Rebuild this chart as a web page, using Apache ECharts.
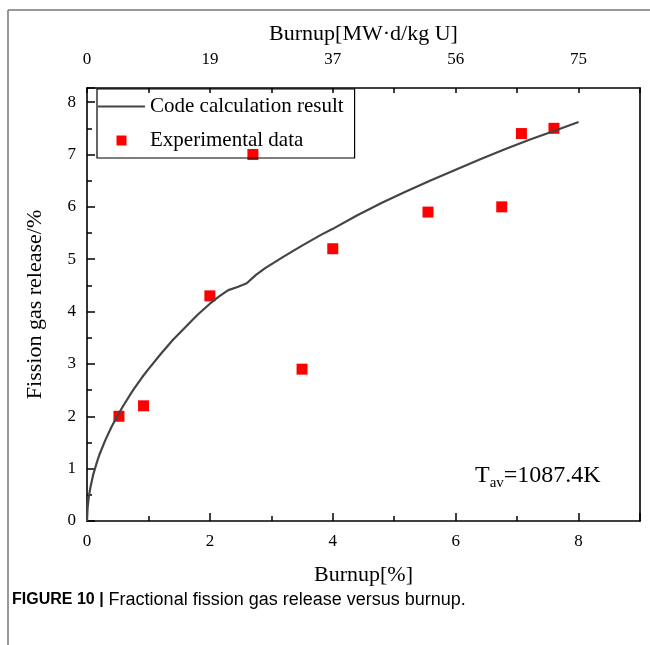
<!DOCTYPE html>
<html>
<head>
<meta charset="utf-8">
<script src="https://cdn.jsdelivr.net/npm/echarts@6/dist/echarts.min.js"></script>
<style>html,body{margin:0;padding:0;background:#fff;}#c{width:650px;height:645px;}</style>
</head>
<body>
<div id="c"></div>
<script>
// Experimental data: burnup [%] and fission gas release [%]
var expBurnup = [0.52, 0.92, 2.0, 2.7, 3.5, 4.0, 5.55, 6.75, 7.07, 7.6];
var expFGR    = [2.0, 2.2, 4.3, 7.0, 2.9, 5.2, 5.9, 6.0, 7.4, 7.5];
// Code calculation result curve
var calcBurnup = [0, 0.01, 0.03, 0.06, 0.1, 0.15, 0.2, 0.3, 0.4, 0.5, 0.6, 0.75, 0.9, 1.0, 1.2, 1.4, 1.6, 1.8, 2.0, 2.15, 2.3, 2.45, 2.6, 2.75, 2.9, 3.2, 3.5, 3.8, 4.0, 4.4, 4.8, 5.2, 5.6, 6.0, 6.4, 6.8, 7.2, 7.6, 8.0];
var calcFGR    = [0, 0.26, 0.47, 0.67, 0.88, 1.08, 1.26, 1.55, 1.8, 2.02, 2.22, 2.5, 2.75, 2.9, 3.19, 3.46, 3.7, 3.94, 4.15, 4.29, 4.41, 4.47, 4.54, 4.7, 4.83, 5.05, 5.26, 5.46, 5.58, 5.84, 6.08, 6.3, 6.51, 6.71, 6.91, 7.1, 7.28, 7.45, 7.62];
// Top axis tick labels (MW·d/kg U) at burnup 0,2,4,6,8 %
var topTickLabels = ['0', '19', '37', '56', '75'];
var seriesNames = ['Code calculation result', 'Experimental data'];

var curve = calcBurnup.map(function (x, i) { return [x, calcFGR[i]]; });
var points = expBurnup.map(function (x, i) { return [x, expFGR[i]]; });

var serif = 'Liberation Serif';
var gridRect = { left: 87, right: 10, top: 88, bottom: 124 };
var axisLineStyle = { color: '#000', width: 1.6 };
var labelStyle = { fontFamily: serif, fontSize: 17, color: '#000' };
var nameStyle = { fontFamily: serif, fontSize: 22, color: '#000' };

var chart = echarts.init(document.getElementById('c'), null, { renderer: 'canvas' });
chart.setOption({
  animation: false,
  backgroundColor: '#fff',
  grid: [
    Object.assign({ containLabel: false }, gridRect),
    Object.assign({ containLabel: false }, gridRect)
  ],
  xAxis: [
    { // bottom main axis
      type: 'value', gridIndex: 0, position: 'bottom', min: 0, max: 9, interval: 2,
      name: 'Burnup[%]', nameLocation: 'middle', nameGap: 43, nameTextStyle: nameStyle,
      axisLine: { show: true, onZero: false, lineStyle: axisLineStyle },
      axisTick: { show: true, inside: true, length: 8, lineStyle: { color: '#000', width: 1.5 } },
      axisLabel: Object.assign({ margin: 12, formatter: function (v) { return (v % 2 === 0 && v <= 8) ? String(v) : ''; } }, labelStyle),
      splitLine: { show: false }
    },
    { // top axis
      type: 'value', gridIndex: 0, position: 'top', min: 0, max: 9, interval: 1,
      name: 'Burnup[MW\u00b7d/kg U]', nameLocation: 'middle', nameGap: 43, nameTextStyle: nameStyle,
      axisLine: { show: true, onZero: false, lineStyle: axisLineStyle },
      axisTick: { show: true, inside: true, length: 5, lineStyle: { color: '#000', width: 1.5 } },
      axisLabel: Object.assign({ margin: 20, formatter: function (v) { return (v % 2 === 0 && v <= 8) ? topTickLabels[v / 2] : ''; } }, labelStyle),
      splitLine: { show: false }
    },
    { // bottom minor ticks
      type: 'value', gridIndex: 1, position: 'bottom', min: 0, max: 9, interval: 1,
      axisLine: { show: false },
      axisTick: { show: true, inside: true, length: 5, lineStyle: { color: '#000', width: 1.5 } },
      axisLabel: { show: false }, splitLine: { show: false }
    }
  ],
  yAxis: [
    { // left main axis
      type: 'value', gridIndex: 0, position: 'left', min: 0, max: 8.27, interval: 1,
      name: 'Fission gas release/%', nameLocation: 'middle', nameGap: 41, nameTextStyle: nameStyle,
      axisLine: { show: true, onZero: false, lineStyle: axisLineStyle },
      axisTick: { show: true, inside: true, length: 8, lineStyle: { color: '#000', width: 1.5 } },
      axisLabel: Object.assign({ margin: 11, formatter: function (v) { return Number.isInteger(v) ? String(v) : ''; } }, labelStyle),
      splitLine: { show: false }
    },
    { // right border
      type: 'value', gridIndex: 0, position: 'right', min: 0, max: 8.27,
      axisLine: { show: true, onZero: false, lineStyle: axisLineStyle },
      axisTick: { show: false }, axisLabel: { show: false }, splitLine: { show: false }
    },
    { // left minor ticks
      type: 'value', gridIndex: 1, position: 'left', min: 0, max: 8.27, interval: 0.5,
      axisLine: { show: false },
      axisTick: { show: true, inside: true, length: 5, lineStyle: { color: '#000', width: 1.5 } },
      axisLabel: { show: false }, splitLine: { show: false }
    }
  ],
  legend: {
    left: 97, top: 89, orient: 'vertical',
    padding: [7, 11, 7, 1], itemGap: 13, itemWidth: 47, itemHeight: 10,
    borderColor: '#000', borderWidth: 1.2,
    textStyle: { fontFamily: serif, fontSize: 21, color: '#000', lineHeight: 14 },
    data: [
      { name: seriesNames[0], icon: 'path://M0,0L47,0L47,2.2L0,2.2Z' },
      { name: seriesNames[1], icon: 'path://M0,0L10,0L10,10L0,10Z' }
    ]
  },
  series: [
    {
      name: seriesNames[0], type: 'line', xAxisIndex: 0, yAxisIndex: 0,
      data: curve, symbol: 'none', showSymbol: false, smooth: false,
      lineStyle: { color: '#444', width: 2.2 }, itemStyle: { color: '#444' }
    },
    {
      name: seriesNames[1], type: 'scatter', xAxisIndex: 0, yAxisIndex: 0,
      data: points, symbol: 'rect', symbolSize: 11,
      itemStyle: { color: '#ff0000', opacity: 1 }
    }
  ],
  graphic: [
    { type: 'line', shape: { x1: 8, y1: 10, x2: 650, y2: 10 }, style: { stroke: '#777', lineWidth: 1.5 }, silent: true },
    { type: 'line', shape: { x1: 8, y1: 10, x2: 8, y2: 645 }, style: { stroke: '#777', lineWidth: 1.5 }, silent: true },
    {
      type: 'text', left: 475, top: 464, silent: true,
      style: {
        text: '{t|T}{s|av}{t|=1087.4K}',
        rich: {
          t: { fontFamily: serif, fontSize: 24, color: '#000', lineHeight: 29 },
          s: { fontFamily: serif, fontSize: 15, color: '#000', lineHeight: 27, verticalAlign: 'bottom' }
        }
      }
    },
    {
      type: 'text', left: 12, top: 591, silent: true,
      style: {
        text: '{b|FIGURE 10 |}{n| Fractional fission gas release versus burnup.}',
        rich: {
          b: { fontFamily: 'Liberation Sans', fontSize: 16, fontWeight: 'bold', color: '#111' },
          n: { fontFamily: 'Liberation Sans', fontSize: 18, color: '#333' }
        }
      }
    }
  ]
});
</script>
</body>
</html>
